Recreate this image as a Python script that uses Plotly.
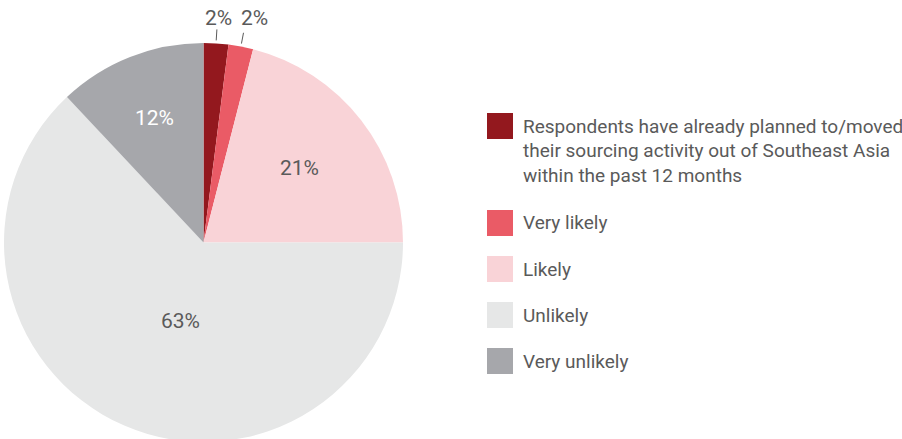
import math
import plotly.graph_objects as go

# Survey answers (share of respondents, %)
categories = [
    "Respondents have already planned to/moved their sourcing activity out of Southeast Asia within the past 12 months",
    "Very likely",
    "Likely",
    "Unlikely",
    "Very unlikely",
]
legend_lines = [
    ["Respondents have already planned to/moved",
     "their sourcing activity out of Southeast Asia",
     "within the past 12 months"],
    ["Very likely"],
    ["Likely"],
    ["Unlikely"],
    ["Very unlikely"],
]
values = [2, 2, 21, 63, 12]
colors = ["#93181e", "#ea5b66", "#f9d3d7", "#e6e7e7", "#a6a7ab"]
label_colors = ["#5a5a5a", "#5a5a5a", "#5a5a5a", "#5a5a5a", "#ffffff"]

# Canvas and pie geometry (pixels)
W, H = 902, 443
CX, CY, R = 203.5, 242.5, 199.5
TEXT = "#5a5a5a"
FONT = "Roboto, 'Open Sans', Arial, sans-serif"
SMALL = 5  # slices below this share get an outside label with a leader line

# Placement of the in-slice labels: fraction of the radius and turn (deg) from mid-angle
LABEL_RADIUS = [None, None, 0.61, 0.41, 0.67]
LABEL_TURN = [0, 0, 0, -7.4, 0]


def px(x):
    return x / W


def py(y):
    return 1 - y / H


fig = go.Figure(
    go.Pie(
        labels=categories,
        values=values,
        sort=False,
        direction="clockwise",
        rotation=0,
        marker=dict(colors=colors, line=dict(width=0)),
        textinfo="none",
        hoverinfo="label+value",
        showlegend=False,
        domain=dict(x=[px(CX - R), px(CX + R)], y=[py(CY + R), py(CY - R)]),
    )
)

shapes = []
annotations = []

total = sum(values)
cum = 0
last_label_x = -1e9
for i, v in enumerate(values):
    theta = 2 * math.pi * (cum + v / 2) / total  # clockwise from 12 o'clock
    if v < SMALL:
        # leader line and outside label for the thin slices at the top
        x0 = CX + (R + 3) * math.sin(theta)
        y0 = CY - (R + 3) * math.cos(theta)
        x1 = CX + (R + 14) * math.sin(theta)
        y1 = CY - (R + 14) * math.cos(theta)
        shapes.append(dict(type="line", xref="paper", yref="paper",
                           x0=px(x0), y0=py(y0), x1=px(x1), y1=py(y1),
                           line=dict(color=TEXT, width=1)))
        lx = max(x1 + 2, last_label_x + 36)
        last_label_x = lx
        annotations.append(dict(xref="paper", yref="paper", x=px(lx), y=py(18),
                                xanchor="center", yanchor="middle", showarrow=False,
                                text=f"{v}%", font=dict(family=FONT, size=21, color=TEXT)))
    else:
        a = theta + math.radians(LABEL_TURN[i])
        r = LABEL_RADIUS[i] * R
        annotations.append(dict(xref="paper", yref="paper",
                                x=px(CX + r * math.sin(a)), y=py(CY - r * math.cos(a)),
                                xanchor="center", yanchor="middle", showarrow=False,
                                text=f"{v}%", font=dict(family=FONT, size=21, color=label_colors[i])))
    cum += v

# Legend drawn as swatches and text rows
SW_X0, SW_X1, SW = 487, 513, 26
TXT_X = 521
LINE_H = 24.5
row_y = 126
for lines, col in zip(legend_lines, colors):
    shapes.append(dict(type="rect", xref="paper", yref="paper",
                       x0=px(SW_X0), x1=px(SW_X1),
                       y0=py(row_y - SW / 2), y1=py(row_y + SW / 2),
                       fillcolor=col, line=dict(width=0)))
    for k, line in enumerate(lines):
        annotations.append(dict(xref="paper", yref="paper", x=px(TXT_X), y=py(row_y + k * LINE_H),
                                xanchor="left", yanchor="middle", showarrow=False,
                                text=line, font=dict(family=FONT, size=19, color=TEXT)))
    row_y += 46 + (len(lines) - 1) * 25.5

fig.update_layout(
    width=W,
    height=H,
    margin=dict(l=0, r=0, t=0, b=0),
    paper_bgcolor="white",
    plot_bgcolor="white",
    font=dict(family=FONT, color=TEXT),
    shapes=shapes,
    annotations=annotations,
)

fig.write_html(
    "out.html",
    config={"displayModeBar": False},
    post_script="document.documentElement.style.overflow='hidden';"
                "document.body.style.overflow='hidden';document.body.style.margin='0';",
)
